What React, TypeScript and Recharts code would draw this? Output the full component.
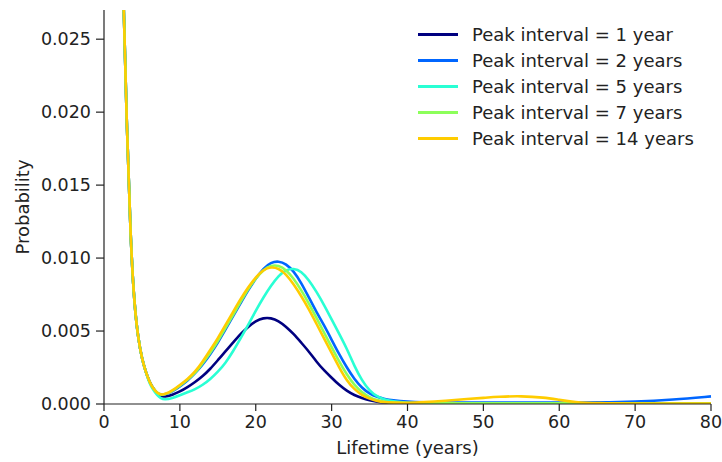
import React from 'react';
import { LineChart, Line, XAxis, YAxis, Legend, Label } from 'recharts';

const FONT = '"DejaVu Sans", Verdana, sans-serif';

// lifetime in years (x values)
const years = [
  2, 2.5, 3, 3.5, 4, 4.5, 5, 5.5, 6, 6.5, 7, 7.5, 8,
  9, 10, 11, 12, 13, 14, 15, 16, 17, 18, 19, 20, 21, 22, 23, 24, 25, 26, 27, 28, 29, 30,
  31, 32, 33, 34, 35, 36, 37, 38,
  40, 42, 45, 48, 50, 52, 55, 58, 60, 62, 65, 70, 75, 80,
];

const oneYear = [
  0.045, 0.0275, 0.0195, 0.0112, 0.0068, 0.0045, 0.0031, 0.0022, 0.0015, 0.00105, 0.00072, 0.00055, 0.00048,
  0.00062, 0.00085, 0.00115, 0.0015, 0.0019, 0.0024, 0.003, 0.0036, 0.0042, 0.0048, 0.0053, 0.0057, 0.0059, 0.0059, 0.0057, 0.0053, 0.0048, 0.0042, 0.0036, 0.0029, 0.0023, 0.0018,
  0.0013, 0.0009, 0.0006, 0.0004, 0.00025, 0.00015, 0.0001, 0.00005,
  0.00002, 0.00001, 0.00001, 0.00001, 0.00001, 0.00001, 0.00001, 0.00001, 0.00001, 0.00001, 0.00001, 0.00001, 0.00001, 0.00001,
];

const twoYears = [
  0.045, 0.0275, 0.0195, 0.0112, 0.0068, 0.0045, 0.0031, 0.0022, 0.0015, 0.00105, 0.00074, 0.00062, 0.00063,
  0.00085, 0.0012, 0.0016, 0.0021, 0.0027, 0.0034, 0.0042, 0.0051, 0.006, 0.0069, 0.0078, 0.0086, 0.0093, 0.0097, 0.0098, 0.0096, 0.0091, 0.0083, 0.0073, 0.0063, 0.0054, 0.0044,
  0.0034, 0.0025, 0.0017, 0.0011, 0.0007, 0.00048, 0.00034, 0.00025,
  0.00016, 0.00012, 0.0001, 0.0001, 0.0001, 0.0001, 0.0001, 0.0001, 0.0001, 0.0001, 0.00011, 0.00016, 0.0003, 0.00052,
];

const fiveYears = [
  0.045, 0.0275, 0.0195, 0.0112, 0.0068, 0.0045, 0.0031, 0.0022, 0.0014, 0.00095, 0.0006, 0.00038, 0.0003,
  0.0004, 0.0006, 0.0008, 0.001, 0.0013, 0.0017, 0.0022, 0.0028, 0.0036, 0.0045, 0.0054, 0.0064, 0.0073, 0.0081, 0.0088, 0.0092, 0.0093, 0.0091, 0.0085, 0.0077, 0.0068, 0.0058,
  0.0048, 0.0038, 0.0026, 0.0016, 0.0009, 0.0005, 0.0003, 0.00018,
  0.00007, 0.00004, 0.00003, 0.00003, 0.00003, 0.00003, 0.00003, 0.00003, 0.00003, 0.00003, 0.00003, 0.00003, 0.00003, 0.00003,
];

const sevenYears = [
  0.045, 0.0275, 0.0195, 0.0112, 0.0068, 0.0045, 0.0031, 0.0022, 0.0015, 0.00105, 0.00075, 0.00063, 0.00064,
  0.00088, 0.00125, 0.00165, 0.0021, 0.0028, 0.0035, 0.0043, 0.0052, 0.0061, 0.007, 0.0079, 0.0086, 0.0092, 0.0095, 0.0095, 0.0092, 0.0086, 0.0078, 0.0069, 0.0059, 0.0049, 0.0039,
  0.0029, 0.002, 0.0013, 0.0008, 0.00045, 0.00025, 0.00015, 0.0001,
  0.00006, 0.00005, 0.00004, 0.00004, 0.00004, 0.00004, 0.00004, 0.00004, 0.00004, 0.00004, 0.00004, 0.00004, 0.00004, 0.00004,
];

const fourteenYears = [
  0.045, 0.0275, 0.0195, 0.0112, 0.0068, 0.0045, 0.0031, 0.0022, 0.0015, 0.00105, 0.00075, 0.00064, 0.00066,
  0.0009, 0.0013, 0.0017, 0.0022, 0.0029, 0.0037, 0.0045, 0.0054, 0.0063, 0.0072, 0.008, 0.0087, 0.0092, 0.0094, 0.0093, 0.0089, 0.0082, 0.0074, 0.0065, 0.0055, 0.0045, 0.0035,
  0.0025, 0.0016, 0.001, 0.0006, 0.00035, 0.0002, 0.00012, 0.00009,
  0.00008, 0.00012, 0.00022, 0.00035, 0.00042, 0.0005, 0.00055, 0.00045, 0.00028, 0.00013, 0.00005, 0.00003, 0.00003, 0.00003,
];

const xTicks = [0, 10, 20, 30, 40, 50, 60, 70, 80];
const yTicks = [0, 0.005, 0.01, 0.015, 0.02, 0.025];

const series = [
  { key: 'p1', name: 'Peak interval = 1 year', color: '#000080', values: oneYear },
  { key: 'p2', name: 'Peak interval = 2 years', color: '#0066ff', values: twoYears },
  { key: 'p5', name: 'Peak interval = 5 years', color: '#29ffd4', values: fiveYears },
  { key: 'p7', name: 'Peak interval = 7 years', color: '#8cff5a', values: sevenYears },
  { key: 'p14', name: 'Peak interval = 14 years', color: '#ffcc00', values: fourteenYears },
];

const rows = years.map((t, i) => {
  const row: Record<string, number> = { t };
  series.forEach((s) => {
    row[s.key] = s.values[i];
  });
  return row;
});

const LegendBox = () => (
  <div style={{ fontFamily: FONT, fontSize: 18, color: '#222' }}>
    {series.map((s) => (
      <div key={s.key} style={{ display: 'flex', alignItems: 'center', height: 25.8 }}>
        <span style={{ display: 'inline-block', width: 40, height: 3, background: s.color, marginRight: 14 }} />
        <span>{s.name}</span>
      </div>
    ))}
  </div>
);

const YTitle = (props: any) => {
  const vb = props.viewBox || { y: 0, height: 0 };
  const cy = vb.y + vb.height / 2;
  return (
    <text
      x={29}
      y={cy}
      transform={`rotate(-90, 29, ${cy})`}
      textAnchor="middle"
      fontSize={18}
      fontFamily={FONT}
      fill="#222"
    >
      Probability
    </text>
  );
};

export default function App() {
  return (
    <div style={{ position: 'absolute', left: 0, top: 0, background: '#fff' }}>
      <LineChart
        width={722}
        height={462}
        data={rows}
        margin={{ top: 10, right: 11, bottom: 28, left: 24 }}
        style={{ fontFamily: FONT }}
      >
        <XAxis
          dataKey="t"
          type="number"
          domain={[0, 80]}
          ticks={xTicks}
          height={30}
          tickSize={7}
          tickMargin={5}
          stroke="#222"
          strokeWidth={1.2}
          tick={{ fill: '#222', fontSize: 17.5 }}
        >
          <Label value="Lifetime (years)" position="bottom" offset={7} fontSize={18} fill="#222" />
        </XAxis>
        <YAxis
          type="number"
          domain={[0, 0.027]}
          allowDataOverflow
          ticks={yTicks}
          width={80}
          tickSize={8}
          tickMargin={5}
          stroke="#222"
          strokeWidth={1.2}
          tick={{ fill: '#222', fontSize: 17.5 }}
          tickFormatter={(v: number) => v.toFixed(3)}
        >
          <Label content={YTitle} />
        </YAxis>
        <Legend
          layout="vertical"
          align="center"
          verticalAlign="middle"
          wrapperStyle={{ top: 22, left: 418, width: 300 }}
          content={LegendBox}
        />
        {series.map((s) => (
          <Line
            key={s.key}
            dataKey={s.key}
            name={s.name}
            type="basis"
            stroke={s.color}
            strokeWidth={2.6}
            dot={false}
            activeDot={false}
            isAnimationActive={false}
          />
        ))}
      </LineChart>
    </div>
  );
}
